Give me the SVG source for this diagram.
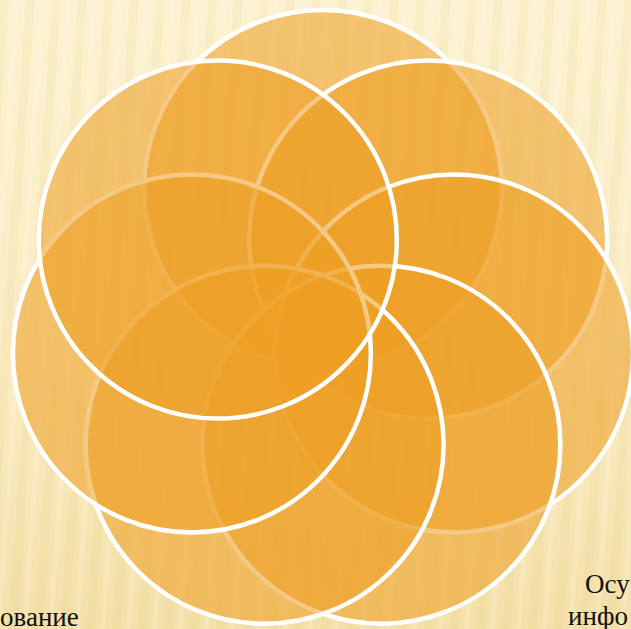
<svg xmlns="http://www.w3.org/2000/svg" width="631" height="629" viewBox="0 0 631 629">
  <style>
    .c { fill: rgb(237,158,36); fill-opacity: 0.56; stroke: #ffffff; stroke-width: 4.5; }
    .t { font-family: "Liberation Serif", "Times New Roman", serif; font-size: 27px; fill: #111111; }
  </style>
  <defs>
    <linearGradient id="bg" x1="0" y1="0" x2="0" y2="1">
      <stop offset="0" stop-color="#FDF2D1"/>
      <stop offset="0.6" stop-color="#FAEBC2"/>
      <stop offset="1" stop-color="#F4E0A8"/>
    </linearGradient>
    <pattern id="stripes" width="26" height="629" patternUnits="userSpaceOnUse" patternTransform="skewX(-4)">
      <rect x="0" y="0" width="9" height="629" fill="#E6CC88" opacity="0.14"/>
      <rect x="14" y="0" width="5" height="629" fill="#FFFFFF" opacity="0.16"/>
    </pattern>
  </defs>
  <rect id="background" x="0" y="0" width="631" height="629" fill="url(#bg)"/>
  <rect x="0" y="0" width="631" height="629" fill="url(#stripes)"/>
  <g id="circle-top"><circle class="c" cx="323" cy="189" r="179"/></g>
  <g id="circle-top-right"><circle class="c" cx="428.2" cy="239.6" r="179"/></g>
  <g id="circle-right"><circle class="c" cx="454.1" cy="353.4" r="179"/></g>
  <g id="circle-bottom-right"><circle class="c" cx="381.4" cy="444.7" r="179"/></g>
  <g id="circle-bottom-left"><circle class="c" cx="264.6" cy="444.7" r="179"/></g>
  <g id="circle-left"><circle class="c" cx="191.9" cy="353.4" r="179"/></g>
  <g id="circle-top-left"><circle class="c" cx="217.8" cy="239.6" r="179"/></g>
  <g id="connectors"></g>
  <g id="label-left"><text class="t" x="0" y="626">ование</text></g>
  <g id="label-right">
    <text class="t" x="585" y="593">Осу</text>
    <text class="t" x="568" y="625">инфо</text>
  </g>
</svg>
